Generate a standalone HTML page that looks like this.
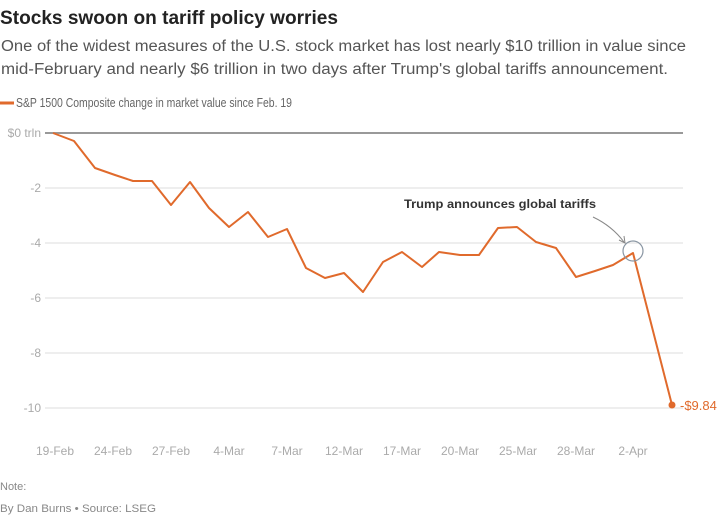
<!DOCTYPE html>
<html><head><meta charset="utf-8"><style>
html,body{margin:0;padding:0;background:#fff}
svg{display:block;font-family:"Liberation Sans",sans-serif}
</style></head><body>
<svg width="720" height="516" viewBox="0 0 720 516">
<text x="0" y="24" font-size="19" font-weight="bold" fill="#222" textLength="338" lengthAdjust="spacingAndGlyphs">Stocks swoon on tariff policy worries</text>
<text x="1" y="51" font-size="15.5" fill="#555" textLength="685" lengthAdjust="spacingAndGlyphs">One of the widest measures of the U.S. stock market has lost nearly $10 trillion in value since</text>
<text x="1" y="74" font-size="15.5" fill="#555" textLength="667" lengthAdjust="spacingAndGlyphs">mid-February and nearly $6 trillion in two days after Trump's global tariffs announcement.</text>
<line x1="0" y1="103" x2="14" y2="103" stroke="#e06a2c" stroke-width="3"/>
<text x="16" y="107" font-size="12.5" fill="#666" textLength="276" lengthAdjust="spacingAndGlyphs">S&amp;P 1500 Composite change in market value since Feb. 19</text>
<g stroke="#ddd" stroke-width="1">
<line x1="45" y1="188" x2="683" y2="188"/><line x1="45" y1="243" x2="683" y2="243"/>
<line x1="45" y1="298" x2="683" y2="298"/><line x1="45" y1="353" x2="683" y2="353"/>
<line x1="45" y1="408" x2="683" y2="408"/>
</g>
<line x1="45" y1="133" x2="683" y2="133" stroke="#999" stroke-width="2"/>
<g font-size="12" fill="#aaa" text-anchor="end">
<text x="41" y="137">$0 trln</text><text x="41" y="192">-2</text><text x="41" y="247">-4</text>
<text x="41" y="302">-6</text><text x="41" y="357">-8</text><text x="41" y="412">-10</text>
</g>
<g font-size="12" fill="#aaa" text-anchor="middle">
<text x="55" y="455">19-Feb</text><text x="113" y="455">24-Feb</text><text x="171" y="455">27-Feb</text>
<text x="229" y="455">4-Mar</text><text x="287" y="455">7-Mar</text><text x="344" y="455">12-Mar</text>
<text x="402" y="455">17-Mar</text><text x="460" y="455">20-Mar</text><text x="518" y="455">25-Mar</text>
<text x="576" y="455">28-Mar</text><text x="633" y="455">2-Apr</text>
</g>
<polyline fill="none" stroke="#e06a2c" stroke-width="2" stroke-linejoin="round" points="53,133 74,141 95,168 115,175 133,181 152,181 171,205 190,182 209,208 229,227 248,212 268,237 287,229 306,268 325,278 344,273 363,292 383,262 402,252 422,267 439,252 460,255 479,255 498,228 517,227 536,242 556,248 576,277 595,271 613,265 633,253 672,405"/>
<circle cx="672" cy="405" r="3.5" fill="#e06a2c"/>
<text x="680" y="410" font-size="13" fill="#e06a2c">-$9.84</text>
<circle cx="633" cy="251" r="10" fill="none" stroke="#8a96a3" stroke-width="1.2"/>
<path d="M593,217 Q612,226 624,242" fill="none" stroke="#888" stroke-width="1"/>
<path d="M619,240 L625,243 L624,236" fill="none" stroke="#888" stroke-width="1"/>
<text x="404" y="208" font-size="12" font-weight="bold" fill="#333" textLength="192" lengthAdjust="spacingAndGlyphs">Trump announces global tariffs</text>
<text x="0" y="490" font-size="11" fill="#888">Note:</text>
<text x="0" y="512" font-size="11" fill="#888" textLength="156" lengthAdjust="spacingAndGlyphs">By Dan Burns • Source: LSEG</text>
</svg>
</body></html>
